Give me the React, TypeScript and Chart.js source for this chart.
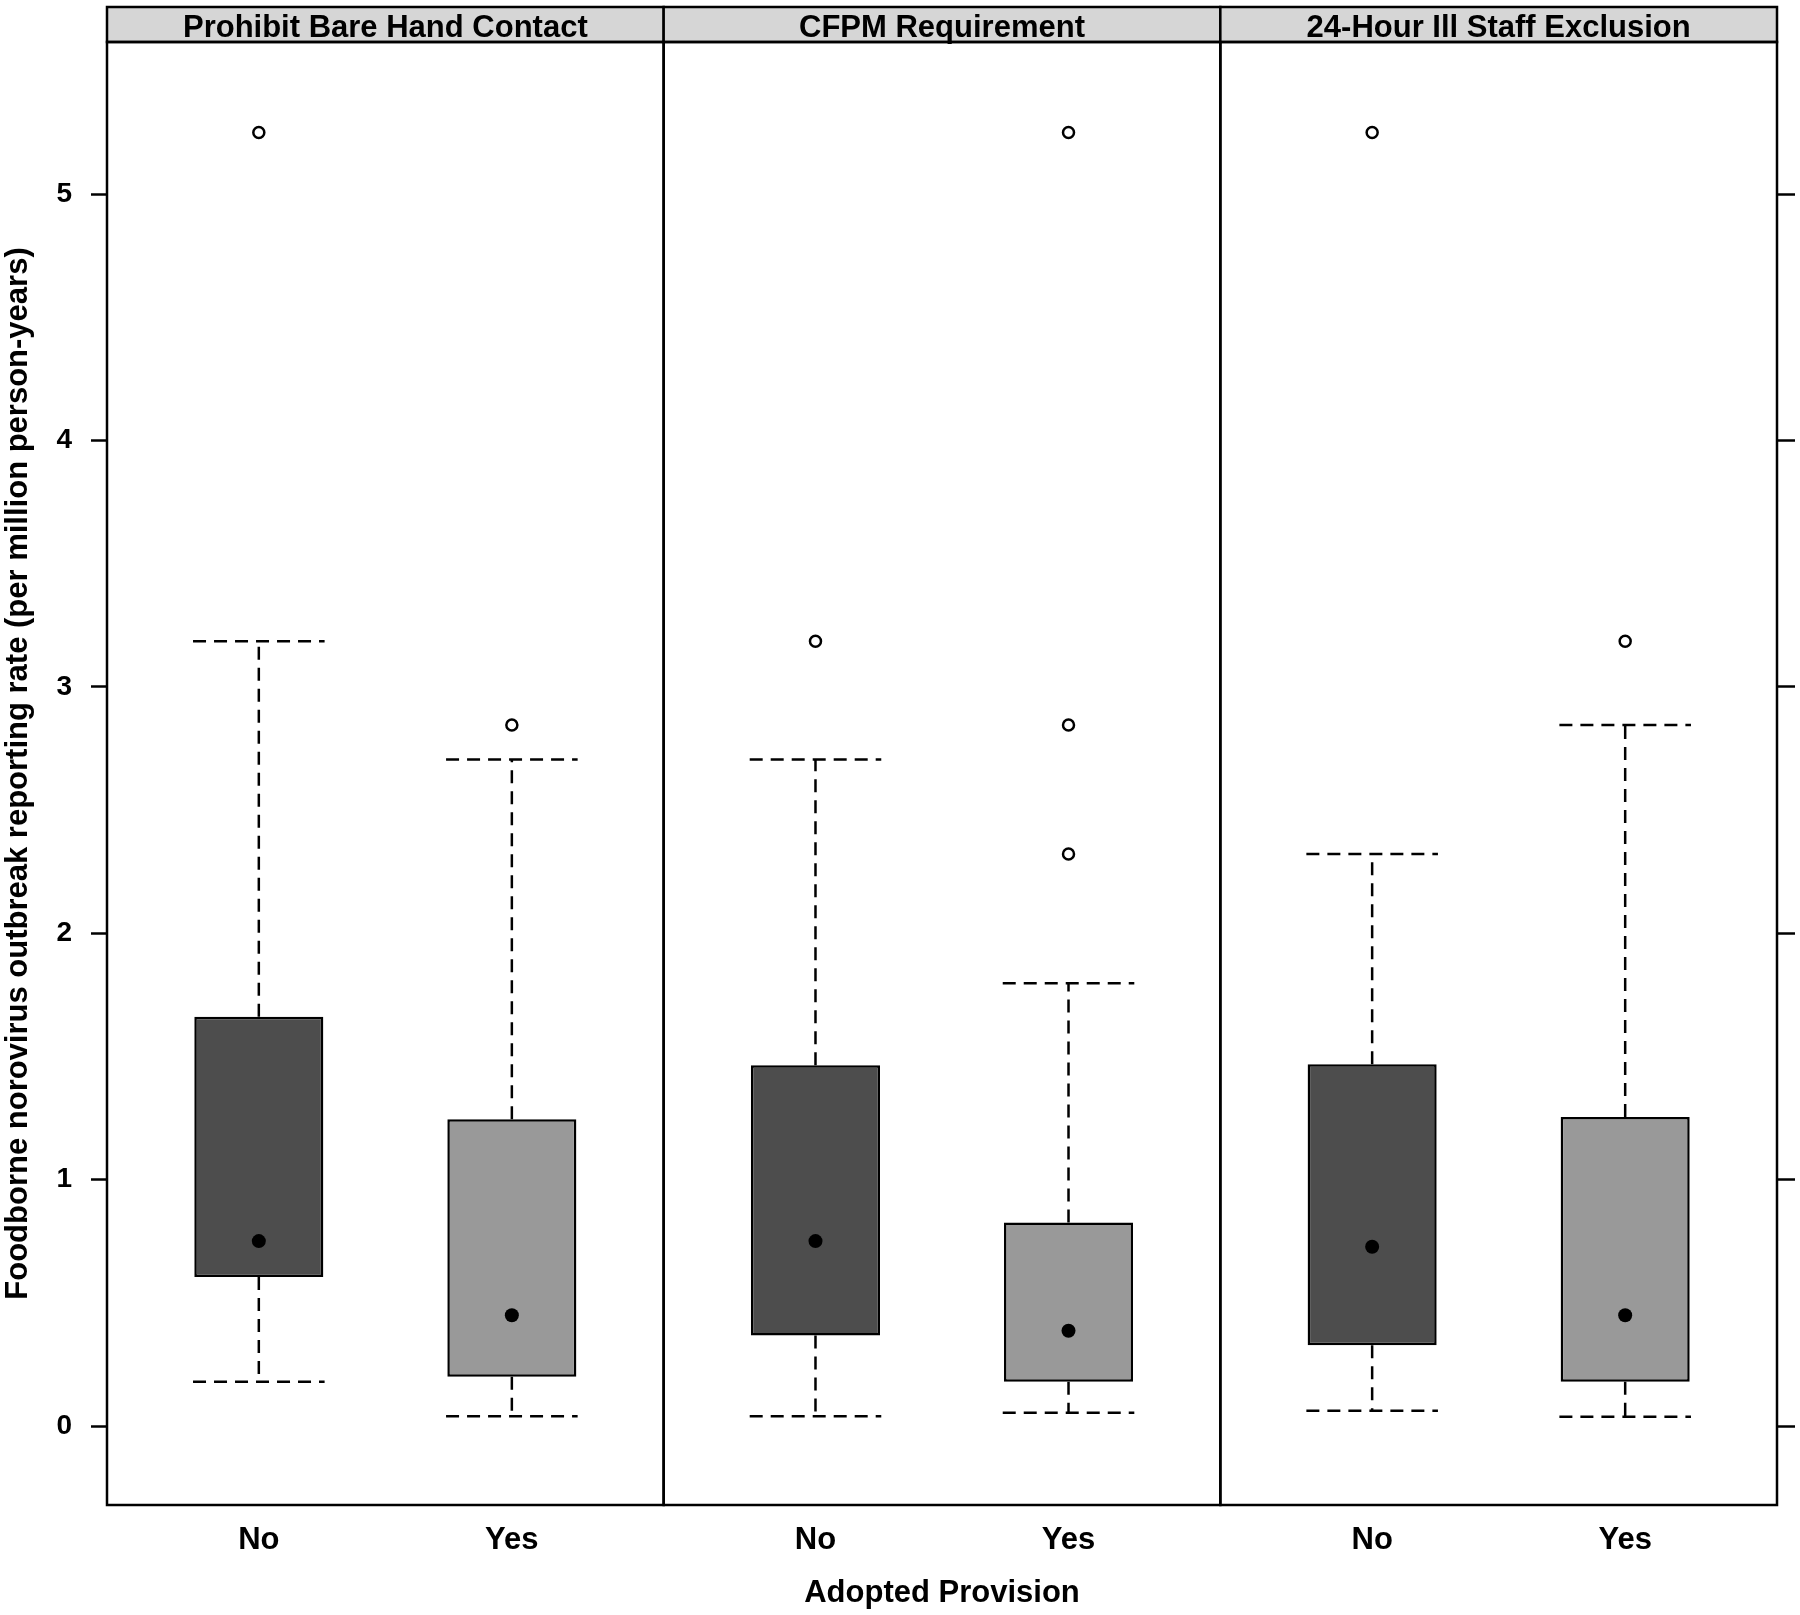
import React, { useEffect, useRef } from 'react';
import { Chart, registerables } from 'chart.js';

Chart.register(...registerables);

// ---- data ----
const panelTitles = ['Prohibit Bare Hand Contact', 'CFPM Requirement', '24-Hour Ill Staff Exclusion'];
const groupLabels = ['No', 'Yes'];
// boxes in order: panel1 No, panel1 Yes, panel2 No, panel2 Yes, panel3 No, panel3 Yes
const lowerWhisker = [0.18, 0.04, 0.04, 0.054, 0.062, 0.038];
const lowerQuartile = [0.605, 0.2, 0.368, 0.18, 0.328, 0.18];
const medianValue = [0.751, 0.45, 0.751, 0.387, 0.728, 0.45];
const upperQuartile = [1.661, 1.245, 1.465, 0.826, 1.469, 1.255];
const upperWhisker = [3.185, 2.705, 2.705, 1.797, 2.322, 2.845];
const outlierValues = [[5.25], [2.845], [3.185], [5.25, 2.845, 2.322], [5.25], [3.185]];
const yTickValues = [0, 1, 2, 3, 4, 5];
const yTitle = 'Foodborne norovirus outbreak reporting rate (per million person-years)';
const xTitle = 'Adopted Provision';

// ---- layout constants ----
const Y_MIN = -0.32;
const Y_MAX = 5.617;
const X_MIN = 0.4;
const PANEL_SPAN = 2.2;
const X_MAX = X_MIN + PANEL_SPAN * panelTitles.length;
const CAP_HALF = 0.26;
const FONT = "'Liberation Sans', Arial, Helvetica, sans-serif";
const groupColors = ['#4d4d4d', '#999999'];
const stripFill = '#d6d6d6';

const boxX = (i: number) => Math.floor(i / groupLabels.length) * PANEL_SPAN + (i % groupLabels.length) + 1;
const xTickValues = lowerWhisker.map((_, i) => boxX(i));

const latticeFrame = {
  id: 'latticeFrame',
  afterDraw(chart: any) {
    const { ctx, chartArea, scales } = chart;
    const xs = scales.x;
    const stripTop = 7;
    ctx.save();
    ctx.lineWidth = 2.5;
    ctx.strokeStyle = '#000';
    for (let p = 0; p < panelTitles.length; p++) {
      const l = xs.getPixelForValue(X_MIN + p * PANEL_SPAN);
      const r = xs.getPixelForValue(X_MIN + (p + 1) * PANEL_SPAN);
      ctx.fillStyle = stripFill;
      ctx.fillRect(l, stripTop, r - l, chartArea.top - stripTop);
      ctx.strokeRect(l, stripTop, r - l, chartArea.top - stripTop);
      ctx.fillStyle = '#000';
      ctx.font = `bold 31px ${FONT}`;
      ctx.textAlign = 'center';
      ctx.textBaseline = 'alphabetic';
      ctx.fillText(panelTitles[p], (l + r) / 2, 37);
      // panel outline
      ctx.strokeRect(l, chartArea.top, r - l, chartArea.bottom - chartArea.top);
    }
    ctx.restore();
  },
};

export default function App() {
  const ref = useRef<HTMLCanvasElement | null>(null);

  useEffect(() => {
    if (!ref.current) return;

    const whiskerData: any[] = [];
    const medianData: any[] = [];
    const outlierData: any[] = [];
    const boxData: any[] = [];
    const boxColors: string[] = [];
    lowerWhisker.forEach((lw, i) => {
      const x = boxX(i);
      boxData.push({ x, y: [lowerQuartile[i], upperQuartile[i]] });
      boxColors.push(groupColors[i % groupLabels.length]);
      whiskerData.push(
        { x, y: upperQuartile[i] }, { x, y: upperWhisker[i] }, { x, y: null },
        { x: x - CAP_HALF, y: upperWhisker[i] }, { x: x + CAP_HALF, y: upperWhisker[i] }, { x, y: null },
        { x, y: lowerQuartile[i] }, { x, y: lw }, { x, y: null },
        { x: x - CAP_HALF, y: lw }, { x: x + CAP_HALF, y: lw }, { x, y: null },
      );
      medianData.push({ x, y: medianValue[i] });
      outlierValues[i].forEach((v) => outlierData.push({ x, y: v }));
    });

    const yCommon = {
      type: 'linear' as const,
      min: Y_MIN,
      max: Y_MAX,
      afterBuildTicks: (s: any) => { s.ticks = yTickValues.map((v) => ({ value: v })); },
      border: { display: false },
    };

    const chart = new Chart(ref.current, {
      type: 'bar',
      data: {
        datasets: [
          {
            type: 'bar',
            data: boxData as any,
            backgroundColor: boxColors,
            borderColor: '#000',
            borderWidth: 2.5,
            borderSkipped: false,
            categoryPercentage: 1,
            barPercentage: 0.51,
            order: 3,
          } as any,
          {
            type: 'scatter',
            data: whiskerData,
            showLine: true,
            borderColor: '#000',
            borderWidth: 2.5,
            borderDash: [13, 8],
            pointRadius: 0,
            spanGaps: false,
            order: 2,
          } as any,
          {
            type: 'scatter',
            data: medianData,
            pointStyle: 'circle',
            pointRadius: 7,
            backgroundColor: '#000',
            borderColor: '#000',
            borderWidth: 0,
            order: 1,
          } as any,
          {
            type: 'scatter',
            data: outlierData,
            pointStyle: 'circle',
            pointRadius: 5.5,
            backgroundColor: 'rgba(0,0,0,0)',
            borderColor: '#000',
            borderWidth: 2.5,
            order: 0,
          } as any,
        ],
      },
      options: {
        responsive: false,
        animation: false,
        events: [],
        layout: { padding: { top: 42, left: 0, right: 0, bottom: 0 } },
        plugins: { legend: { display: false }, tooltip: { enabled: false } },
        scales: {
          x: {
            type: 'linear',
            min: X_MIN,
            max: X_MAX,
            offset: false,
            afterBuildTicks: (s: any) => { s.ticks = xTickValues.map((v) => ({ value: v })); },
            afterFit: (s: any) => { s.height = 110; },
            grid: { display: false, drawTicks: false },
            border: { display: false },
            ticks: {
              autoSkip: false,
              maxRotation: 0,
              padding: 17,
              color: '#000',
              font: { family: FONT, size: 31, weight: 'bold' },
              callback: (_v: any, idx: number) => groupLabels[idx % groupLabels.length],
            },
            title: {
              display: true,
              text: xTitle,
              color: '#000',
              font: { family: FONT, size: 31, weight: 'bold' },
              padding: { top: 0, bottom: 3 },
            },
          } as any,
          y: {
            ...yCommon,
            position: 'left',
            afterFit: (s: any) => { s.width = 107; },
            grid: { drawOnChartArea: false, drawTicks: true, tickLength: 16, tickWidth: 2.5, tickColor: '#000' },
            ticks: {
              padding: 19,
              color: '#000',
              font: { family: FONT, size: 28, weight: 'bold' },
            },
            title: {
              display: true,
              text: yTitle,
              color: '#000',
              font: { family: FONT, size: 31, weight: 'bold' },
              padding: { top: 0, bottom: 0 },
            },
          } as any,
          y2: {
            ...yCommon,
            position: 'right',
            afterFit: (s: any) => { s.width = 23; },
            grid: { drawOnChartArea: false, drawTicks: true, tickLength: 18, tickWidth: 2.5, tickColor: '#000' },
            ticks: { display: false },
          } as any,
        },
      },
      plugins: [latticeFrame],
    });

    return () => chart.destroy();
  }, []);

  return (
    <div style={{ position: 'absolute', left: 0, top: 0, width: 1800, height: 1615, background: '#fff' }}>
      <canvas ref={ref} width={1800} height={1615} style={{ display: 'block' }} />
    </div>
  );
}
